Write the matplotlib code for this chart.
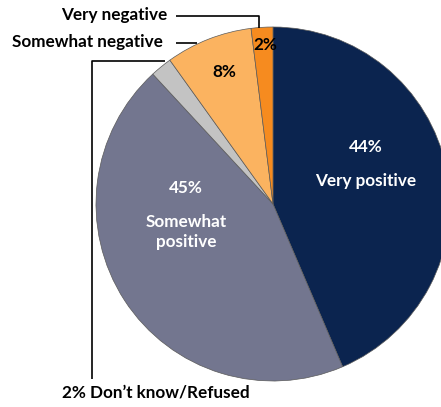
import matplotlib
matplotlib.use("Agg")
import matplotlib.pyplot as plt

plt.rcParams['font.family'] = ['Lato', 'DejaVu Sans']

# clockwise from the top
categories = ["Very positive", "Somewhat positive", "Don\u2019t know/Refused",
              "Somewhat negative", "Very negative"]
shares = [44, 45, 2, 8, 2]
colors = ["#0B244F", "#73768F", "#C3C3C3", "#FBB360", "#F68B1F"]

W, H = 441, 407
fig = plt.figure(figsize=(W / 100, H / 100), dpi=100)
ax = fig.add_axes([0, 0, 1, 1])

# y axis is flipped below, so "counterclock" here reads as clockwise on screen
ax.pie(shares, colors=colors, center=(273, 204), radius=177,
       startangle=-90, counterclock=True, frame=True,
       wedgeprops=dict(edgecolor='#5a5a5a', linewidth=0.5))
ax.set_xlim(0, W)
ax.set_ylim(H, 0)  # pixel-style coordinates, y grows downward
ax.set_aspect('equal')
ax.axis('off')

fs = 12.3
white = dict(color='white', fontsize=fs, fontweight='bold', ha='center', va='center')
black = dict(color='black', fontsize=fs, fontweight='bold', va='center')

# labels inside the slices
ax.text(366, 147, f"{shares[0]}%", **white)
ax.text(366, 181, categories[0], **white)
ax.text(186, 188, f"{shares[1]}%", **white)
ax.text(186, 232, "Somewhat\npositive", linespacing=1.25, **white)
ax.text(224, 72, f"{shares[3]}%", ha='center', **black)
ax.text(265, 45, f"{shares[4]}%", ha='center', **black)

# outside labels with leader lines
ax.text(167, 15, categories[4], ha='right', **black)
ax.plot([176, 259, 259], [16, 16, 28], color='black', lw=1.2, solid_capstyle='butt')

ax.text(163, 42, categories[3], ha='right', **black)
ax.plot([176, 197], [43, 43], color='black', lw=1.2, solid_capstyle='butt')

ax.text(62, 392, f"{shares[2]}% {categories[2]}", ha='left', **black)
ax.plot([92, 92, 165], [379, 61, 61], color='black', lw=1.2, solid_capstyle='butt')

fig.savefig("out.png", dpi=100)
